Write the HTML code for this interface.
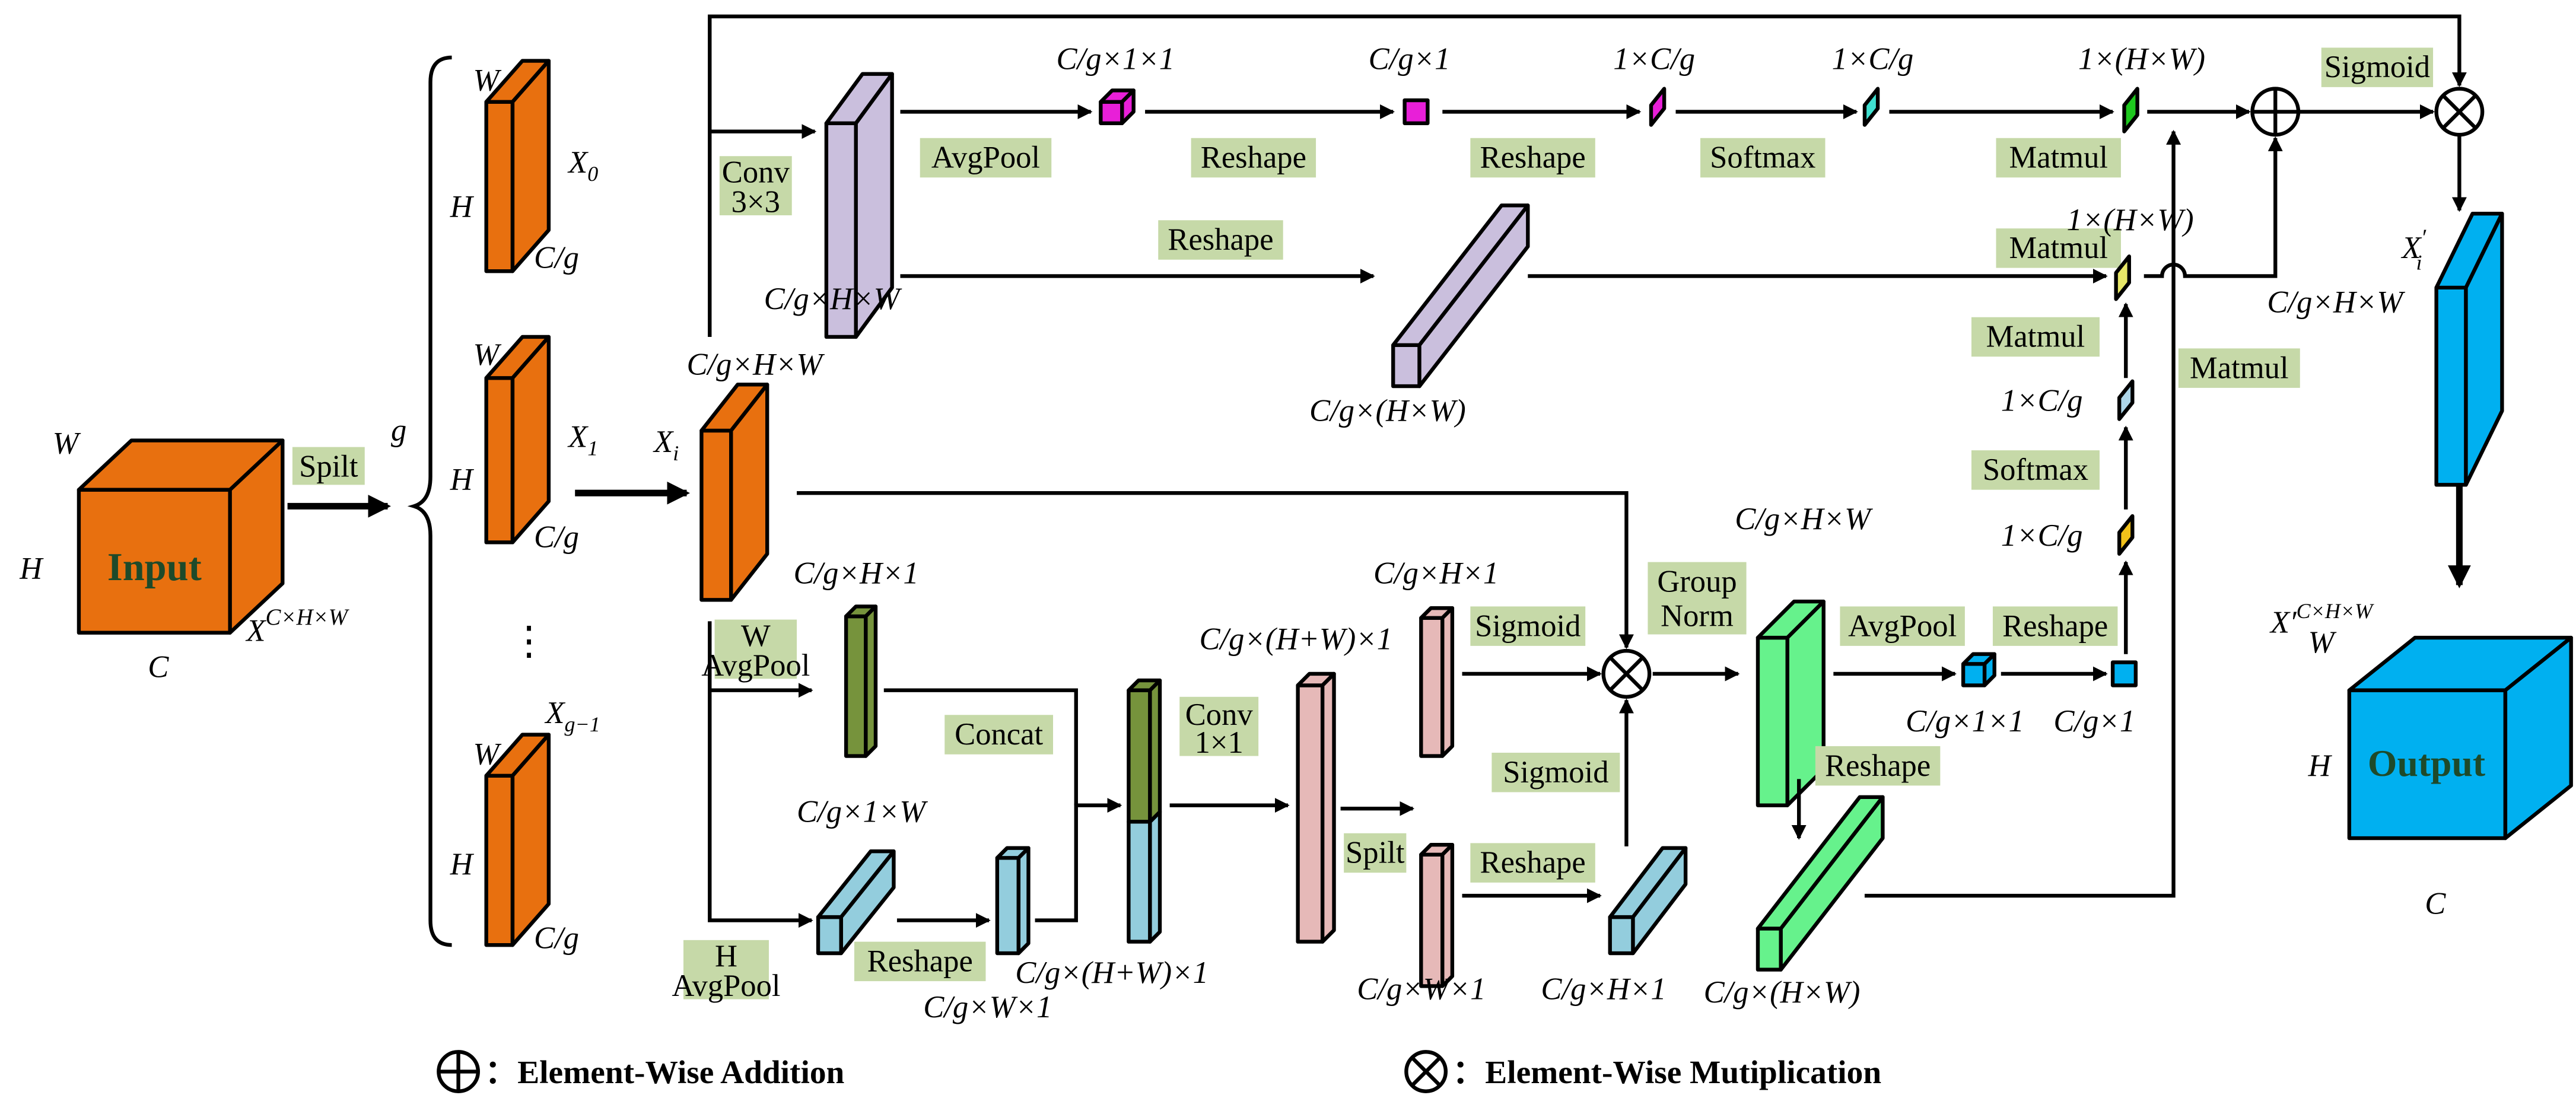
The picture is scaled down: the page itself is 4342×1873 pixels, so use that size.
<!DOCTYPE html>
<html><head><meta charset="utf-8"><style>
html,body{margin:0;padding:0;background:#fff;}
svg{display:block;}
text{font-family:"Liberation Serif",serif;}
.i{font-style:italic;font-size:19px;}
.l{font-size:19px;}
.b{fill:#C6D9A8;}
.s{stroke:#000;stroke-width:2.3;stroke-linejoin:round;}
.ln{stroke:#000;stroke-width:2.3;fill:none;}
.tk{stroke:#000;stroke-width:4;fill:none;}
</style></head><body>
<svg width="4342" height="1873" viewBox="0 0 1568 676" preserveAspectRatio="none" xmlns="http://www.w3.org/2000/svg">
<defs>
<marker id="a" markerWidth="9" markerHeight="9" refX="8" refY="4.5" orient="auto" markerUnits="userSpaceOnUse"><path d="M0,0 L9,4.5 L0,9 z" fill="#000"/></marker>
<marker id="A" markerWidth="14" markerHeight="14" refX="12" refY="7" orient="auto" markerUnits="userSpaceOnUse"><path d="M0,0 L14,7 L0,14 z" fill="#000"/></marker>
</defs>

<!-- Input cube -->
<g class="s" fill="#E8700F">
<rect x="48" y="298" width="92" height="87"/>
<polygon points="48,298 80,268 172,268 140,298"/>
<polygon points="140,298 172,268 172,355 140,385"/>
</g>
<text x="94" y="353" text-anchor="middle" font-size="24" font-weight="bold" fill="#1E4A2A">Input</text>
<text class="i" x="32" y="276" font-size="22">W</text>
<text class="i" x="12" y="352" font-size="22">H</text>
<text class="i" x="90" y="412" font-size="22">C</text>
<text class="i" x="150" y="390" font-size="22">X<tspan font-size="14" dy="-10">C×H×W</tspan></text>

<rect class="b" x="178" y="272" width="44" height="23"/>
<text class="l" x="200" y="290" text-anchor="middle">Spilt</text>
<line class="tk" x1="175" y1="308" x2="236" y2="308" marker-end="url(#A)"/>
<text class="i" x="238" y="268" font-size="24">g</text>
<path class="ln" d="M275,35 Q262,35 262,50 L262,290 Q262,305 252,308 Q262,311 262,326 L262,560 Q262,575 275,575"/>

<!-- Slices -->
<g class="s" fill="#E8700F">
<rect x="296" y="62" width="16" height="103"/><polygon points="296,62 318,37 334,37 312,62"/><polygon points="312,62 334,37 334,140 312,165"/>
<rect x="296" y="230" width="16" height="100"/><polygon points="296,230 318,205 334,205 312,230"/><polygon points="312,230 334,205 334,305 312,330"/>
<rect x="296" y="472" width="16" height="103"/><polygon points="296,472 318,447 334,447 312,472"/><polygon points="312,472 334,447 334,550 312,575"/>
<rect x="427" y="262" width="18" height="103"/><polygon points="427,262 449,234 467,234 445,262"/><polygon points="445,262 467,234 467,337 445,365"/>
</g>
<text class="i" x="288" y="55" font-size="21">W</text><text class="i" x="274" y="132" font-size="21">H</text><text class="i" x="346" y="105" font-size="21">X<tspan font-size="13" dy="5">0</tspan></text><text class="i" x="325" y="163" font-size="21">C/g</text>
<text class="i" x="288" y="222" font-size="21">W</text><text class="i" x="274" y="298" font-size="21">H</text><text class="i" x="346" y="272" font-size="21">X<tspan font-size="13" dy="5">1</tspan></text><text class="i" x="325" y="333" font-size="21">C/g</text>
<text x="322" y="398" font-size="24" text-anchor="middle">⋮</text>
<text class="i" x="288" y="465" font-size="21">W</text><text class="i" x="274" y="532" font-size="21">H</text><text class="i" x="332" y="440" font-size="21">X<tspan font-size="13" dy="5">g−1</tspan></text><text class="i" x="325" y="577" font-size="21">C/g</text>
<line class="tk" x1="350" y1="300" x2="418" y2="300" marker-end="url(#A)"/>
<text class="i" x="418" y="228">C/g×H×W</text>
<text class="i" x="398" y="275" font-size="22">X<tspan font-size="13" dy="5">i</tspan></text>

<!-- top skip line -->
<polyline class="ln" points="432,205 432,10 1497,10 1497,52" marker-end="url(#a)"/>
<line class="ln" x1="432" y1="80" x2="496" y2="80" marker-end="url(#a)"/>
<rect class="b" x="438" y="95" width="44" height="36"/>
<text class="l" x="460" y="111" text-anchor="middle">Conv</text><text class="l" x="460" y="129" text-anchor="middle">3×3</text>
<g class="s" fill="#CABFDD">
<rect x="503" y="75" width="18" height="130"/><polygon points="503,75 525,45 543,45 521,75"/><polygon points="521,75 543,45 543,175 521,205"/>
<rect x="848" y="210" width="16" height="25"/><polygon points="848,210 914,125 930,125 864,210"/><polygon points="864,210 930,125 930,150 864,235"/>
</g>
<text class="i" x="465" y="188">C/g×H×W</text>
<text class="i" x="797" y="256">C/g×(H×W)</text>

<!-- top row -->
<line class="ln" x1="548" y1="68" x2="664" y2="68" marker-end="url(#a)"/>
<rect class="b" x="560" y="84" width="80" height="24"/><text class="l" x="600" y="102" text-anchor="middle">AvgPool</text>
<g class="s" fill="#E81FD8"><rect x="670" y="62" width="13" height="13"/><polygon points="670,62 677,55 690,55 683,62"/><polygon points="683,62 690,55 690,68 683,75"/>
<rect x="855" y="61" width="14" height="14"/>
<polygon points="1005,76 1005,64 1013,54 1013,66"/></g>
<text class="i" x="643" y="42">C/g×1×1</text>
<line class="ln" x1="697" y1="68" x2="848" y2="68" marker-end="url(#a)"/>
<rect class="b" x="725" y="84" width="76" height="24"/><text class="l" x="763" y="102" text-anchor="middle">Reshape</text>
<text class="i" x="833" y="42">C/g×1</text>
<line class="ln" x1="878" y1="68" x2="998" y2="68" marker-end="url(#a)"/>
<rect class="b" x="895" y="84" width="76" height="24"/><text class="l" x="933" y="102" text-anchor="middle">Reshape</text>
<text class="i" x="982" y="42">1×C/g</text>
<line class="ln" x1="1020" y1="68" x2="1130" y2="68" marker-end="url(#a)"/>
<rect class="b" x="1035" y="84" width="76" height="24"/><text class="l" x="1073" y="102" text-anchor="middle">Softmax</text>
<polygon class="s" fill="#3FE0D0" points="1135,76 1135,64 1143,54 1143,66"/>
<text class="i" x="1115" y="42">1×C/g</text>
<line class="ln" x1="1150" y1="68" x2="1286" y2="68" marker-end="url(#a)"/>
<rect class="b" x="1215" y="84" width="76" height="24"/><text class="l" x="1253" y="102" text-anchor="middle">Matmul</text>
<polygon class="s" fill="#1EC81E" points="1293,80 1293,64 1301,54 1301,70"/>
<text class="i" x="1265" y="42">1×(H×W)</text>
<line class="ln" x1="1307" y1="68" x2="1369" y2="68" marker-end="url(#a)"/>
<circle class="ln" cx="1385" cy="68" r="14"/><line class="ln" x1="1371" y1="68" x2="1399" y2="68"/><line class="ln" x1="1385" y1="54" x2="1385" y2="82"/>
<line class="ln" x1="1399" y1="68" x2="1481" y2="68" marker-end="url(#a)"/>
<rect class="b" x="1413" y="29" width="68" height="24"/><text class="l" x="1447" y="47" text-anchor="middle">Sigmoid</text>
<circle class="ln" cx="1497" cy="68" r="14"/><line class="ln" x1="1487" y1="58" x2="1507" y2="78"/><line class="ln" x1="1507" y1="58" x2="1487" y2="78"/>

<!-- second row -->
<line class="ln" x1="548" y1="168" x2="836" y2="168" marker-end="url(#a)"/>
<rect class="b" x="705" y="134" width="76" height="24"/><text class="l" x="743" y="152" text-anchor="middle">Reshape</text>
<line class="ln" x1="930" y1="168" x2="1282" y2="168" marker-end="url(#a)"/>
<rect class="b" x="1215" y="139" width="76" height="24"/><text class="l" x="1253" y="157" text-anchor="middle">Matmul</text>
<polygon class="s" fill="#E8E868" points="1288,182 1288,166 1296,156 1296,172"/>
<text class="i" x="1258" y="140">1×(H×W)</text>
<path class="ln" d="M1305,168 L1316,168 A7,7 0 0 1 1330,168 L1385,168 L1385,84" marker-end="url(#a)"/>

<!-- vertical column -->
<polygon class="s" fill="#ADD5E8" points="1290,255 1290,242 1298,232 1298,245"/>
<polygon class="s" fill="#F2C21A" points="1290,337 1290,324 1298,314 1298,327"/>
<text class="i" x="1218" y="250">1×C/g</text>
<text class="i" x="1218" y="332">1×C/g</text>
<line class="ln" x1="1294" y1="230" x2="1294" y2="185" marker-end="url(#a)"/>
<line class="ln" x1="1294" y1="310" x2="1294" y2="260" marker-end="url(#a)"/>
<line class="ln" x1="1294" y1="398" x2="1294" y2="342" marker-end="url(#a)"/>
<rect class="b" x="1200" y="193" width="78" height="24"/><text class="l" x="1239" y="211" text-anchor="middle">Matmul</text>
<rect class="b" x="1200" y="274" width="78" height="24"/><text class="l" x="1239" y="292" text-anchor="middle">Softmax</text>
<rect class="b" x="1213" y="369" width="76" height="24"/><text class="l" x="1251" y="387" text-anchor="middle">Reshape</text>
<polyline class="ln" points="1135,545 1323,545 1323,80" marker-end="url(#a)"/>
<rect class="b" x="1326" y="212" width="74" height="24"/><text class="l" x="1363" y="230" text-anchor="middle">Matmul</text>

<!-- Xi to group norm -->
<polyline class="ln" points="485,300 990,300 990,394" marker-end="url(#a)"/>
<circle class="ln" cx="990" cy="410" r="14"/><line class="ln" x1="980" y1="400" x2="1000" y2="420"/><line class="ln" x1="1000" y1="400" x2="980" y2="420"/>
<rect class="b" x="1003" y="342" width="60" height="44"/><text class="l" x="1033" y="360" text-anchor="middle">Group</text><text class="l" x="1033" y="381" text-anchor="middle">Norm</text>

<!-- lower branch -->
<polyline class="ln" points="432,378 432,560 494,560" marker-end="url(#a)"/>
<line class="ln" x1="432" y1="420" x2="494" y2="420" marker-end="url(#a)"/>
<rect class="b" x="435" y="377" width="50" height="36"/><text class="l" x="460" y="393" text-anchor="middle">W</text><text class="l" x="460" y="411" text-anchor="middle">AvgPool</text>
<rect class="b" x="416" y="572" width="52" height="36"/><text class="l" x="442" y="588" text-anchor="middle">H</text><text class="l" x="442" y="606" text-anchor="middle">AvgPool</text>
<g class="s">
<g fill="#76933C"><rect x="515" y="375" width="12" height="85"/><polygon points="515,375 521,369 533,369 527,375"/><polygon points="527,375 533,369 533,454 527,460"/></g>
<g fill="#93CDDD"><rect x="498" y="558" width="14" height="22"/><polygon points="498,558 530,518 544,518 512,558"/><polygon points="512,558 544,518 544,540 512,580"/>
<rect x="607" y="522" width="13" height="58"/><polygon points="607,522 613,516 626,516 620,522"/><polygon points="620,522 626,516 626,574 620,580"/>
<rect x="687" y="500" width="13" height="73"/><polygon points="700,500 706,494 706,567 700,573"/>
<rect x="980" y="558" width="14" height="22"/><polygon points="980,558 1012,516 1026,516 994,558"/><polygon points="994,558 1026,516 1026,538 994,580"/></g>
<g fill="#76933C"><rect x="687" y="420" width="13" height="80"/><polygon points="687,420 693,414 706,414 700,420"/><polygon points="700,420 706,414 706,494 700,500"/></g>
<g fill="#E6B9B8"><rect x="790" y="417" width="15" height="156"/><polygon points="790,417 797,410 812,410 805,417"/><polygon points="805,417 812,410 812,566 805,573"/>
<rect x="865" y="376" width="13" height="84"/><polygon points="865,376 871,370 884,370 878,376"/><polygon points="878,376 884,370 884,454 878,460"/>
<rect x="865" y="520" width="13" height="80"/><polygon points="865,520 871,514 884,514 878,520"/><polygon points="878,520 884,514 884,594 878,600"/></g>
<g fill="#66F28C"><rect x="1070" y="388" width="18" height="102"/><polygon points="1070,388 1092,366 1110,366 1088,388"/><polygon points="1088,388 1110,366 1110,468 1088,490"/>
<rect x="1070" y="565" width="14" height="25"/><polygon points="1070,565 1132,485 1146,485 1084,565"/><polygon points="1084,565 1146,485 1146,510 1084,590"/></g>
</g>
<text class="i" x="483" y="355">C/g×H×1</text>
<polyline class="ln" points="538,420 655,420 655,490"/>
<rect class="b" x="575" y="435" width="66" height="24"/><text class="l" x="608" y="453" text-anchor="middle">Concat</text>
<text class="i" x="485" y="500">C/g×1×W</text>
<line class="ln" x1="546" y1="560" x2="602" y2="560" marker-end="url(#a)"/>
<rect class="b" x="520" y="573" width="80" height="24"/><text class="l" x="560" y="591" text-anchor="middle">Reshape</text>
<text class="i" x="562" y="619">C/g×W×1</text>
<polyline class="ln" points="630,560 655,560 655,490 682,490" marker-end="url(#a)"/>
<text class="i" x="618" y="598">C/g×(H+W)×1</text>
<line class="ln" x1="712" y1="490" x2="784" y2="490" marker-end="url(#a)"/>
<rect class="b" x="718" y="424" width="48" height="36"/><text class="l" x="742" y="441" text-anchor="middle">Conv</text><text class="l" x="742" y="458" text-anchor="middle">1×1</text>
<text class="i" x="730" y="395">C/g×(H+W)×1</text>
<line class="ln" x1="816" y1="492" x2="860" y2="492" marker-end="url(#a)"/>
<rect class="b" x="818" y="507" width="38" height="24"/><text class="l" x="837" y="525" text-anchor="middle">Spilt</text>
<text class="i" x="836" y="355">C/g×H×1</text>
<rect class="b" x="895" y="369" width="70" height="24"/><text class="l" x="930" y="387" text-anchor="middle">Sigmoid</text>
<line class="ln" x1="890" y1="410" x2="974" y2="410" marker-end="url(#a)"/>
<rect class="b" x="908" y="458" width="78" height="24"/><text class="l" x="947" y="476" text-anchor="middle">Sigmoid</text>
<rect class="b" x="895" y="513" width="76" height="24"/><text class="l" x="933" y="531" text-anchor="middle">Reshape</text>
<line class="ln" x1="890" y1="545" x2="974" y2="545" marker-end="url(#a)"/>
<line class="ln" x1="990" y1="515" x2="990" y2="426" marker-end="url(#a)"/>
<text class="i" x="826" y="608">C/g×W×1</text>
<text class="i" x="938" y="608">C/g×H×1</text>
<line class="ln" x1="1006" y1="410" x2="1058" y2="410" marker-end="url(#a)"/>
<text class="i" x="1056" y="322">C/g×H×W</text>
<line class="ln" x1="1116" y1="410" x2="1190" y2="410" marker-end="url(#a)"/>
<rect class="b" x="1120" y="369" width="76" height="24"/><text class="l" x="1158" y="387" text-anchor="middle">AvgPool</text>
<g class="s" fill="#00B0F0"><rect x="1195" y="404" width="13" height="13"/><polygon points="1195,404 1201,398 1214,398 1208,404"/><polygon points="1208,404 1214,398 1214,411 1208,417"/>
<rect x="1286" y="403" width="14" height="14"/></g>
<line class="ln" x1="1218" y1="410" x2="1282" y2="410" marker-end="url(#a)"/>
<text class="i" x="1160" y="445">C/g×1×1</text>
<text class="i" x="1250" y="445">C/g×1</text>
<rect class="b" x="1105" y="454" width="76" height="24"/><text class="l" x="1143" y="472" text-anchor="middle">Reshape</text>
<line class="ln" x1="1095" y1="474" x2="1095" y2="510" marker-end="url(#a)"/>
<text class="i" x="1037" y="610">C/g×(H×W)</text>

<!-- output side -->
<line class="ln" x1="1497" y1="83" x2="1497" y2="128" marker-end="url(#a)"/>
<g class="s" fill="#00B0F0">
<rect x="1483" y="175" width="18" height="120"/><polygon points="1483,175 1505,130 1523,130 1501,175"/><polygon points="1501,175 1523,130 1523,250 1501,295"/>
<rect x="1430" y="420" width="95" height="90"/><polygon points="1430,420 1470,388 1565,388 1525,420"/><polygon points="1525,420 1565,388 1565,478 1525,510"/>
</g>
<text class="i" x="1462" y="157" font-size="22">X<tspan font-size="14" dy="-8">′</tspan><tspan font-size="13" dx="-6" dy="15">i</tspan></text>
<text class="i" x="1380" y="190">C/g×H×W</text>
<line class="tk" x1="1497" y1="295" x2="1497" y2="356" marker-end="url(#A)"/>
<text x="1477" y="472" text-anchor="middle" font-size="23" font-weight="bold" fill="#1E4A2A">Output</text>
<text class="i" x="1382" y="385" font-size="22">X′<tspan font-size="13" dy="-9">C×H×W</tspan></text>
<text class="i" x="1405" y="397" font-size="21">W</text>
<text class="i" x="1405" y="472" font-size="21">H</text>
<text class="i" x="1476" y="556" font-size="22">C</text>

<!-- legend -->
<circle class="ln" cx="279" cy="652" r="12"/><line class="ln" x1="267" y1="652" x2="291" y2="652"/><line class="ln" x1="279" y1="640" x2="279" y2="664"/>
<text x="295" y="659" font-size="20" font-weight="bold">：Element-Wise Addition</text>
<circle class="ln" cx="868" cy="652" r="12"/><line class="ln" x1="860" y1="644" x2="876" y2="660"/><line class="ln" x1="876" y1="644" x2="860" y2="660"/>
<text x="884" y="659" font-size="20" font-weight="bold">：Element-Wise Mutiplication</text>
</svg>
</body></html>
